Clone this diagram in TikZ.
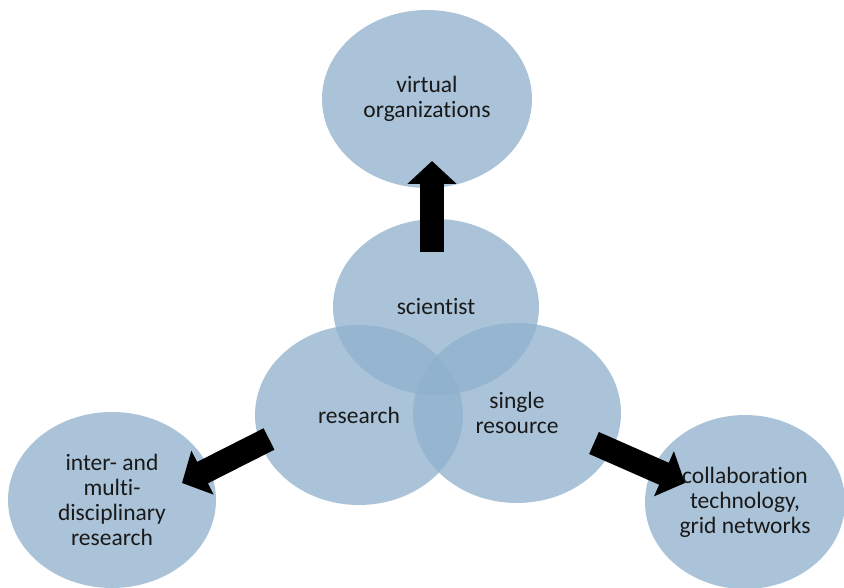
\documentclass[tikz,border=0pt]{standalone}
\usepackage{fontspec}
\setmainfont{Carlito}[Ligatures={NoCommon}]
\usetikzlibrary{shapes.geometric,arrows.meta}
\definecolor{bubblefill}{RGB}{144,177,205}

\begin{document}
\begin{tikzpicture}[
        x=1pt, y=-1pt,
        bubble/.style={ellipse, fill=bubblefill, fill opacity=0.77, text opacity=1, text=black!90,
            align=center, inner sep=0pt, minimum width=208pt, minimum height=178pt,
            font=\fontsize{23.5}{25}\selectfont},
        bigarrow/.style={draw=black, line width=24pt, -{Triangle[length=23pt, width=48pt]}},
    ]
    \useasboundingbox (0,0) rectangle (844,588);
    % outer bubbles
    \node[bubble, minimum width=210pt](vo) at (427,99){virtual\\organizations};
    \node[bubble, minimum height=176pt](idr) at (112,500){inter- and\\multi-\\disciplinary\\research};
    \node[bubble, minimum width=200pt, minimum height=174pt](ctg) at (745,502){collaboration\\technology,\\grid networks};
    % centre bubbles
    \node[bubble, minimum width=206pt, minimum height=176pt](sci) at (436,307){scientist};
    \node[bubble, minimum height=180pt](res) at (359,415){research};
    \node[bubble, minimum height=180pt](sr) at (517,413){single\\resource};
    % arrow ends
    \coordinate (sci-out) at (432,252);
    \coordinate (vo-in) at (432,161);
    \coordinate (res-out) at (269,439);
    \coordinate (idr-in) at (182,483);
    \coordinate (sr-out) at (594,443);
    \coordinate (ctg-in) at (685,483);
    \draw[bigarrow] (sci-out) -- (vo-in);
    \draw[bigarrow] (res-out) -- (idr-in);
    \draw[bigarrow] (sr-out) -- (ctg-in);
\end{tikzpicture}
\end{document}
